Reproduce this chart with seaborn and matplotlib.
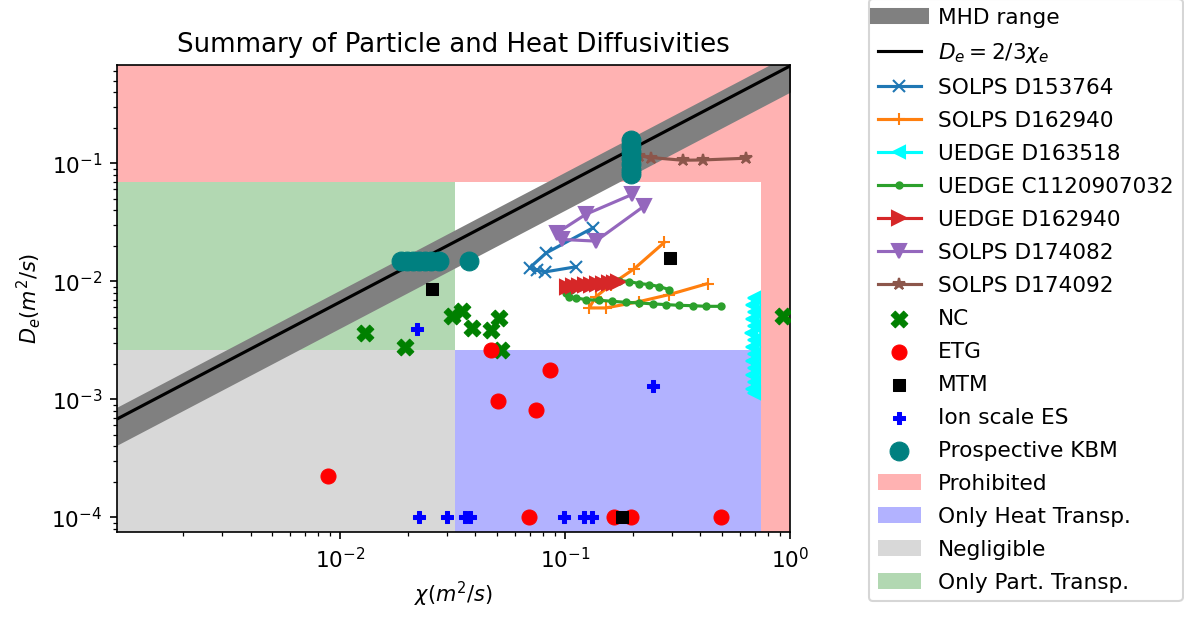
import numpy as np
import matplotlib
matplotlib.use("Agg")
import matplotlib.pyplot as plt
from matplotlib.lines import Line2D
import seaborn as sns

# ---- transport regime boundaries (m^2/s) ----
chi_lo, chi_hi = 0.0324, 0.745
de_lo, de_hi = 0.00263, 0.069
chi_lim = (1.02e-3, 1.0)
de_lim = (7.5e-5, 0.68)

# MHD band expressed as De/chi ratios, and the reference relation De = 2/3 chi
mhd_lo, mhd_hi = 0.40, 0.84
de_chi_ratio = 2.0 / 3.0

# ---- code scans ----
solps_153764_chi = [0.1116, 0.0815, 0.0753, 0.0696, 0.0826, 0.1333]
solps_153764_de = [0.01325, 0.0120, 0.0124, 0.0130, 0.0174, 0.0284]

solps_162940_chi = [0.2767, 0.2028, 0.160, 0.137, 0.128, 0.1517, 0.2136, 0.2904, 0.4305]
solps_162940_de = [0.0214, 0.01274, 0.00937, 0.00737, 0.00594, 0.00594, 0.00672, 0.00771, 0.00956]

uedge_163518_chi = [0.690, 0.676, 0.695, 0.680, 0.692, 0.674, 0.690, 0.680,
                    0.695, 0.676, 0.690, 0.680, 0.692, 0.676, 0.690]
uedge_163518_de = [0.00727, 0.00634, 0.00553, 0.00482, 0.00421, 0.00367, 0.00320, 0.00279,
                   0.00243, 0.00212, 0.00185, 0.00161, 0.00141, 0.00123, 0.00114]

uedge_c1120907032_chi = [0.2904, 0.2622, 0.2366, 0.2137, 0.1928, 0.1739, 0.157, 0.1417,
                         0.128, 0.1155, 0.1063, 0.101, 0.1042, 0.1116, 0.1236, 0.1417,
                         0.1625, 0.1862, 0.2137, 0.2449, 0.281, 0.3222, 0.369, 0.4233, 0.4937]
uedge_c1120907032_de = [0.0085, 0.00902, 0.00937, 0.00956, 0.00994, 0.01014, 0.01014, 0.00994,
                        0.00956, 0.00902, 0.0085, 0.00802, 0.00741, 0.00723, 0.00699, 0.0069,
                        0.00676, 0.00663, 0.00655, 0.00643, 0.00634, 0.00625, 0.00621, 0.00613, 0.00613]

uedge_162940_chi = [0.1021, 0.1086, 0.1155, 0.1228, 0.1306, 0.1388, 0.1476, 0.157, 0.1652, 0.1722]
uedge_162940_de = [0.00902, 0.0091, 0.00919, 0.00928, 0.00937, 0.00946, 0.00956, 0.00965, 0.00975, 0.0099]

solps_174082_chi = [0.1994, 0.1236, 0.0924, 0.0973, 0.1370, 0.2248]
solps_174082_de = [0.05453, 0.03687, 0.02577, 0.0226, 0.02188, 0.04337]

solps_174092_chi = [0.2137, 0.2408, 0.3331, 0.4089, 0.6383]
solps_174092_de = [0.1153, 0.1118, 0.106, 0.1066, 0.1103]

# ---- gyrokinetic / mode identifications ----
nc_chi = [0.01295, 0.01952, 0.03148, 0.03477, 0.03864, 0.04683, 0.0508, 0.05172, 0.929]
nc_de = [0.00364, 0.00277, 0.00511, 0.00564, 0.00402, 0.00389, 0.00489, 0.00263, 0.00504]

etg_chi = [0.0088, 0.04667, 0.0855, 0.05045, 0.0740, 0.0691, 0.1652, 0.1962, 0.4937]
etg_de = [0.000225, 0.00259, 0.001754, 0.000975, 0.000813, 1e-4, 1e-4, 1e-4, 1e-4]

mtm_chi = [0.02564, 0.2927, 0.1789]
mtm_de = [0.00862, 0.01581, 1e-4]

ion_chi = [0.02198, 0.2466, 0.02237, 0.0299, 0.03586, 0.0380, 0.099, 0.1215, 0.1323]
ion_de = [0.00394, 0.0013, 1e-4, 1e-4, 1e-4, 1e-4, 1e-4, 1e-4, 1e-4]

kbm_chi = [0.0186, 0.01978, 0.02103, 0.02237, 0.02378, 0.02529, 0.02747, 0.03736,
           0.1962, 0.1962, 0.1962, 0.1962, 0.1962, 0.1962, 0.1962]
kbm_de = [0.01479, 0.01479, 0.01479, 0.01479, 0.01479, 0.01479, 0.01479, 0.01479,
          0.1567, 0.1394, 0.124, 0.1103, 0.0981, 0.0872, 0.0806]

# ---- figure ----
W, H, DPI = 1184, 622, 150
fig = plt.figure(figsize=(W / DPI, H / DPI), dpi=DPI)
ax = fig.add_axes([117 / W, 1 - 532 / H, (790 - 117) / W, (532 - 65) / H])
ax.set_xscale("log")
ax.set_yscale("log")

# regime shading
x0, x1 = chi_lim
y0, y1 = de_lim
prohib = ax.fill_between([x0, chi_hi, chi_hi, x1], [de_hi, de_hi, y0, y0], y1,
                         color="red", alpha=0.3, lw=0, zorder=0, label="Prohibited")
heat = ax.fill_between([chi_lo, chi_hi], y0, de_lo, color="blue", alpha=0.3, lw=0,
                       zorder=0, label="Only Heat Transp.")
negl = ax.fill_between([x0, chi_lo], y0, de_lo, color="gray", alpha=0.3, lw=0,
                       zorder=0, label="Negligible")
part = ax.fill_between([x0, chi_lo], de_lo, de_hi, color="green", alpha=0.3, lw=0,
                       zorder=0, label="Only Part. Transp.")

# MHD band and De = 2/3 chi
chi_line = np.array([x0 * 0.9, x1 * 1.1])
ax.fill_between(chi_line, mhd_lo * chi_line, mhd_hi * chi_line, color="gray", lw=0, zorder=1)
sns.lineplot(x=chi_line, y=de_chi_ratio * chi_line, color="black", lw=1.5, ax=ax,
             sort=False, estimator=None, zorder=2)
de_line = ax.lines[-1]

series = [
    (solps_153764_chi, solps_153764_de, "SOLPS D153764", "#1f77b4", "x", 6),
    (solps_162940_chi, solps_162940_de, "SOLPS D162940", "#ff7f0e", "+", 6),
    (uedge_163518_chi, uedge_163518_de, "UEDGE D163518", "cyan", "<", 6),
    (uedge_c1120907032_chi, uedge_c1120907032_de, "UEDGE C1120907032", "#2ca02c", ".", 6),
    (uedge_162940_chi, uedge_162940_de, "UEDGE D162940", "#d62728", ">", 7),
    (solps_174082_chi, solps_174082_de, "SOLPS D174082", "#9467bd", "v", 6.5),
    (solps_174092_chi, solps_174092_de, "SOLPS D174092", "#8c564b", "*", 6),
]
line_handles = []
for xs, ys, name, col, mk, ms in series:
    sns.lineplot(x=xs, y=ys, ax=ax, sort=False, estimator=None, color=col, lw=1.5,
                 marker=mk, markersize=ms, markeredgecolor=col, markerfacecolor=col,
                 markeredgewidth=1.0, zorder=3)
    ln = ax.lines[-1]
    ln.set_label(name)
    line_handles.append(ln)

points = [
    (nc_chi, nc_de, "NC", "green", "X", 64),
    (etg_chi, etg_de, "ETG", "red", "o", 52),
    (mtm_chi, mtm_de, "MTM", "black", "s", 38),
    (ion_chi, ion_de, "Ion scale ES", "blue", "P", 34),
    (kbm_chi, kbm_de, "Prospective KBM", "teal", "o", 82),
]
point_handles = []
for xs, ys, name, col, mk, size in points:
    sns.scatterplot(x=xs, y=ys, ax=ax, marker=mk, s=size, color=col, edgecolor=col,
                    linewidth=0.5, zorder=4, legend=False)
    pc = ax.collections[-1]
    pc.set_label(name)
    point_handles.append(pc)

ax.set_xlim(chi_lim)
ax.set_ylim(de_lim)
ax.set_xlabel(r"$\chi(m^2/s)$", fontsize=10)
ax.set_ylabel(r"$D_e(m^2/s)$", fontsize=10)
ax.set_title("Summary of Particle and Heat Diffusivities", fontsize=12.5)
ax.tick_params(labelsize=10.4)
if ax.get_legend() is not None:
    ax.get_legend().remove()

mhd_handle = Line2D([], [], color="gray", lw=7.7, solid_capstyle="projecting")
handles = [mhd_handle, de_line] + line_handles + point_handles + [prohib, heat, negl, part]
labels = ["MHD range", r"$D_e = 2/3\chi_e$"] + [h.get_label() for h in line_handles] + \
         [h.get_label() for h in point_handles] + \
         ["Prohibited", "Only Heat Transp.", "Negligible", "Only Part. Transp."]
fig.legend(handles, labels, loc="upper left", bbox_to_anchor=(869 / W, 1 + 1 / H),
           borderaxespad=0, fontsize=10.4, labelspacing=0.6, scatterpoints=1)

fig.savefig("out.png", dpi=DPI)
